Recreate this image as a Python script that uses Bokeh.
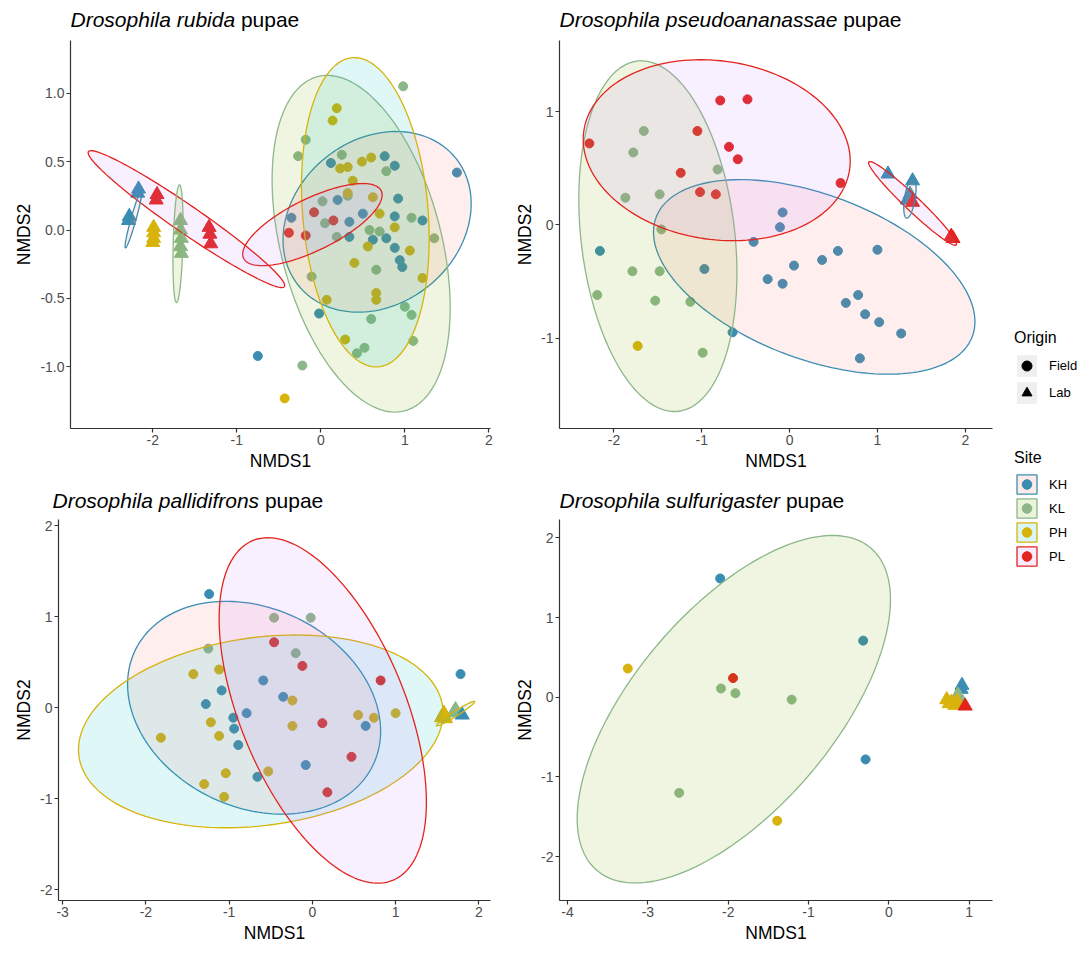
import numpy as np
from bokeh.plotting import figure
from bokeh.layouts import row, column
from bokeh.models import (ColumnDataSource, FixedTicker, Legend, LegendItem, Range1d)
from bokeh.core.properties import value
from bokeh.embed import file_html
from bokeh.resources import INLINE

# ---------------- categories / styles ----------------
sites = ["KH", "KL", "PH", "PL"]
site_line_colors = ["#3A8DB2", "#8DB78A", "#D8B30C", "#E3241D"]
site_fill_colors = ["#F8766D", "#7CAE00", "#00BFC4", "#C77CFF"]
origins = ["Field", "Lab"]

# ---------------- D. rubida ----------------
rubida_field_x = [1.62, 0.12, 0.76, 0.88, 0.92, 0.20, -0.35, 0.50, 0.34, 0.88, 1.21, 0.62, 0.78, 0.88, 0.94, 0.97, 0.34, -0.02, -0.75,
                  0.98, -0.18, -0.27, 0.25, 0.78, 0.02, 0.32, 0.05, 0.19, 0.58, 0.70, 1.08, 0.66, -0.11, 1.00, 1.08, 0.60, 1.10, 0.52, 0.43, -0.22, 1.35,
                  0.19, 0.14, 0.23, 0.32, 0.49, 0.60, 0.38, 0.32, 0.62, 0.70, 0.88, 0.56, 0.40, 1.06, 1.21, 0.66, 0.66, 0.07, 0.29, -0.43,
                  -0.08, 0.15, -0.38, -0.18]
rubida_field_y = [0.42, 0.49, 0.54, 0.47, 0.23, 0.22, 0.09, 0.12, 0.06, 0.10, 0.07, -0.07, -0.06, -0.13, -0.22, -0.27, -0.05, -0.61, -0.92,
                  1.05, 0.66, 0.54, 0.55, 0.43, 0.21, 0.25, 0.05, -0.05, 0.00, -0.01, 0.09, -0.29, -0.34, -0.56, -0.62, -0.65, -0.81, -0.86, -0.90, -0.99, -0.06,
                  0.89, 0.80, 0.45, 0.46, 0.50, 0.53, 0.36, 0.27, 0.24, 0.12, 0.02, -0.12, -0.24, -0.15, -0.35, -0.46, -0.51, -0.51, -0.80, -1.23,
                  0.13, 0.07, -0.02, -0.04]
rubida_field_site = ["KH"] * 19 + ["KL"] * 22 + ["PH"] * 20 + ["PL"] * 4
rubida_lab_x = [-2.17, -2.18, -2.28, -2.29, -1.99, -1.99, -1.99, -2.00, -1.67, -1.67, -1.66, -1.67, -1.66, -1.95, -1.96, -1.33, -1.32, -1.31]
rubida_lab_y = [0.30, 0.27, 0.10, 0.07, 0.02, -0.02, -0.06, -0.09, 0.07, 0.00, -0.06, -0.12, -0.17, 0.26, 0.22, 0.02, -0.03, -0.10]
rubida_lab_site = ["KH"] * 4 + ["PH"] * 4 + ["KL"] * 5 + ["PL"] * 5
rubida_ell_site = ["KH", "KL", "PH", "PL", "PL", "KL", "KH"]
rubida_ell_cx = [0.67, 0.48, 0.53, -0.10, -1.60, -1.70, -2.23]
rubida_ell_cy = [0.06, -0.10, 0.13, 0.04, 0.08, -0.10, 0.08]
rubida_ell_ax = [1.12, 1.06, 0.76, 0.83, 1.17, 0.06, 0.10]
rubida_ell_ay = [0.66, 1.23, 1.13, 0.30, 0.50, 0.43, 0.21]
rubida_ell_cos = [0.20, -0.38, -0.17, 0.72, -0.97, 0.30, 0.95]
rubida_xticks = [-2, -1, 0, 1, 2]
rubida_xlabels = ["-2", "-1", "0", "1", "2"]
rubida_yticks = [-1.0, -0.5, 0.0, 0.5, 1.0]
rubida_ylabels = ["-1.0", "-0.5", "0.0", "0.5", "1.0"]

# ---------------- D. pseudoananassae ----------------
pseudo_field_x = [-0.79, -0.48, -1.05, -2.28, -0.69, -0.59, -1.24, -1.02, -0.84, 0.58,
                  -1.66, -1.78, -1.87, -1.48, -0.82, -1.46, -1.79, -1.48, -2.19, -1.53, -1.13, -0.99,
                  -1.73,
                  -2.16, -0.97, -0.65, -0.41, -0.08, -0.11, 0.55, 1.00, 0.37, 0.05, -0.25, -0.08, 0.64, 0.78, 0.86, 1.02, 1.27, 0.80]
pseudo_field_y = [1.10, 1.11, 0.83, 0.72, 0.69, 0.58, 0.46, 0.29, 0.27, 0.37,
                  0.83, 0.64, 0.24, 0.27, 0.49, -0.04, -0.41, -0.41, -0.62, -0.67, -0.68, -1.13,
                  -1.07,
                  -0.23, -0.39, -0.95, -0.15, 0.11, -0.02, -0.23, -0.22, -0.31, -0.36, -0.48, -0.52, -0.69, -0.62, -0.79, -0.86, -0.96, -1.18]
pseudo_field_site = ["PL"] * 10 + ["KL"] * 12 + ["PH"] * 1 + ["KH"] * 18
pseudo_lab_x = [1.12, 1.40, 1.37, 1.34, 1.40, 1.86, 1.84]
pseudo_lab_y = [0.45, 0.39, 0.27, 0.22, 0.20, -0.12, -0.10]
pseudo_lab_site = ["KH"] * 4 + ["PL"] * 3
pseudo_ell_site = ["KH", "KL", "PL", "PL", "KH"]
pseudo_ell_cx = [0.28, -1.50, -0.83, 1.40, 1.37]
pseudo_ell_cy = [-0.46, -0.10, 0.66, 0.19, 0.24]
pseudo_ell_ax = [1.83, 0.90, 1.52, 0.50, 0.07]
pseudo_ell_ay = [0.86, 1.55, 0.80, 0.37, 0.18]
pseudo_ell_cos = [-0.46, -0.21, -0.12, -0.97, 0.50]
pseudo_xticks = [-2, -1, 0, 1, 2]
pseudo_xlabels = ["-2", "-1", "0", "1", "2"]
pseudo_yticks = [-1, 0, 1]
pseudo_ylabels = ["-1", "0", "1"]

# ---------------- D. pallidifrons ----------------
palli_field_x = [-1.24, -1.09, -1.28, -0.59, -0.35, -0.95, -0.79, -0.94, -0.89, -0.08, -0.66, 0.64, 1.78,
                 -0.46, -0.02, -0.20, -1.25,
                 -0.46, -0.12, 0.82, 0.12, 0.47, 0.18,
                 -1.43, -1.12, -1.82, -1.22, -1.12, -0.24, -0.24, 0.55, 0.74, 1.00, -1.04, -1.30, -1.06, -0.53]
palli_field_y = [1.25, 0.19, 0.04, 0.30, 0.12, -0.11, -0.06, -0.23, -0.41, -0.63, -0.76, -0.20, 0.37,
                 0.99, 0.99, 0.60, 0.65,
                 0.72, 0.46, 0.30, -0.17, -0.54, -0.93,
                 0.37, 0.42, -0.33, -0.16, -0.31, 0.08, -0.20, -0.08, -0.11, -0.06, -0.72, -0.84, -0.98, -0.70]
palli_field_site = ["KH"] * 13 + ["KL"] * 4 + ["PL"] * 6 + ["PH"] * 14
palli_lab_x = [1.72, 1.70, 1.80, 1.55, 1.58, 1.60]
palli_lab_y = [-0.02, -0.05, -0.08, -0.11, -0.06, -0.12]
palli_lab_site = ["KL"] * 2 + ["KH"] * 1 + ["PH"] * 3
palli_ell_site = ["KH", "PH", "PL", "PH"]
palli_ell_cx = [-0.70, -0.62, 0.125, 1.72]
palli_ell_cy = [0.00, -0.26, -0.03, -0.065]
palli_ell_ax = [1.52, 2.19, 1.245, 0.23]
palli_ell_ay = [1.17, 1.06, 1.90, 0.135]
palli_ell_cos = [-0.22, 0.19, -0.53, 0.97]
palli_xticks = [-3, -2, -1, 0, 1, 2]
palli_xlabels = ["-3", "-2", "-1", "0", "1", "2"]
palli_yticks = [-2, -1, 0, 1, 2]
palli_ylabels = ["-2", "-1", "0", "1", "2"]

# ---------------- D. sulfurigaster ----------------
sulfu_field_x = [-2.10, -0.32, -0.29, -3.25, -1.39, -1.94, -2.09, -1.91, -1.21, -2.61]
sulfu_field_y = [1.49, 0.71, -0.78, 0.36, -1.55, 0.24, 0.11, 0.05, -0.03, -1.20]
sulfu_field_site = ["KH"] * 3 + ["PH"] * 2 + ["PL"] * 1 + ["KL"] * 4
sulfu_lab_x = [0.91, 0.90, 0.86, 0.88, 0.72, 0.78, 0.82, 0.75, 0.85, 0.95]
sulfu_lab_y = [0.15, 0.10, 0.03, 0.00, -0.03, -0.06, -0.10, -0.08, -0.05, -0.11]
sulfu_lab_site = ["KH"] * 2 + ["KL"] * 2 + ["PH"] * 5 + ["PL"] * 1
sulfu_ell_site = ["KL"]
sulfu_ell_cx = [-1.93]
sulfu_ell_cy = [-0.15]
sulfu_ell_ax = [1.95]
sulfu_ell_ay = [2.18]
sulfu_ell_cos = [0.63]
sulfu_xticks = [-4, -3, -2, -1, 0, 1]
sulfu_xlabels = ["-4", "-3", "-2", "-1", "0", "1"]
sulfu_yticks = [-2, -1, 0, 1, 2]
sulfu_ylabels = ["-2", "-1", "0", "1", "2"]

# ---------------- helpers ----------------
FONT = "Liberation Sans"
AX_COL = "#333333"
TICK_TXT = "#4D4D4D"
TITLE_SIZE = 21

# Arial / Liberation Sans advance widths (per 1000 em)
_W = {" ": 278, "D": 722, "r": 333, "o": 556, "s": 500, "p": 556, "h": 556, "i": 222,
      "l": 222, "a": 556, "u": 556, "b": 556, "d": 556, "e": 556, "n": 556, "f": 278,
      "g": 556, "t": 278, "c": 500}


def text_width(s, size):
    return sum(_W.get(ch, 556) for ch in s) * size / 1000.0


def col_of(site):
    return site_line_colors[sites.index(site)]


def fill_of(site):
    return site_fill_colors[sites.index(site)]


def title_fig(species, width, height, x0, yc):
    t = figure(width=width, height=height, x_range=Range1d(0, width), y_range=Range1d(0, height),
               toolbar_location=None, output_backend="svg", min_border=0,
               x_axis_location=None, y_axis_location=None, outline_line_color=None)
    t.grid.visible = False
    ital = "Drosophila " + species
    t.text(x=[x0], y=[yc], text=[ital], text_font=value(FONT), text_font_size=f"{TITLE_SIZE}px",
           text_font_style="italic", text_baseline="middle", text_align="left", text_color="black")
    t.text(x=[x0 + text_width(ital + " ", TITLE_SIZE)], y=[yc], text=["pupae"], text_font=value(FONT),
           text_font_size=f"{TITLE_SIZE}px", text_font_style="normal", text_baseline="middle",
           text_align="left", text_color="black")
    return t


def panel(fx, fy, fs, lx, ly, ls, es, ecx, ecy, eax, eay, ecos,
          xr, yr, xt, xl, yt, yl, width, height, bl, br, bt, bb):
    p = figure(width=width, height=height, x_range=Range1d(*xr), y_range=Range1d(*yr),
               toolbar_location=None, output_backend="svg",
               min_border_left=bl, min_border_right=br, min_border_top=bt, min_border_bottom=bb,
               outline_line_color=None, background_fill_color="white", border_fill_color="white")
    p.grid.visible = False

    src_f = ColumnDataSource(dict(x=fx, y=fy, c=[col_of(s) for s in fs]))
    p.scatter("x", "y", source=src_f, marker="circle", size=9, fill_color="c", line_color="c")
    src_l = ColumnDataSource(dict(x=lx, y=ly, c=[col_of(s) for s in ls]))
    p.scatter("x", "y", source=src_l, marker="triangle", size=14, fill_color="c", line_color="c")

    t = np.linspace(0, 2 * np.pi, 160)
    xs, ys, lc, fc = [], [], [], []
    for s, cx, cy, ax, ay, cs in zip(es, ecx, ecy, eax, eay, ecos):
        d = np.arccos(cs)
        xs.append(list(cx + ax * np.cos(t)))
        ys.append(list(cy + ay * np.cos(t - d)))
        lc.append(col_of(s))
        fc.append(fill_of(s))
    src_e = ColumnDataSource(dict(xs=xs, ys=ys, lc=lc, fc=fc))
    p.patches("xs", "ys", source=src_e, fill_color="fc", fill_alpha=0.12,
              line_color="lc", line_width=1.3)

    p.xaxis.ticker = FixedTicker(ticks=xt)
    p.xaxis.major_label_overrides = {float(k): v for k, v in zip(xt, xl)}
    p.yaxis.ticker = FixedTicker(ticks=yt)
    p.yaxis.major_label_overrides = {float(k): v for k, v in zip(yt, yl)}
    p.xaxis.axis_label = "NMDS1"
    p.yaxis.axis_label = "NMDS2"
    for a in (p.xaxis[0], p.yaxis[0]):
        a.axis_line_color = AX_COL
        a.axis_line_width = 1.2
        a.major_tick_line_color = AX_COL
        a.major_tick_line_width = 1.2
        a.major_tick_out = 4
        a.major_tick_in = 0
        a.minor_tick_line_color = None
        a.major_label_text_color = TICK_TXT
        a.major_label_text_font = FONT
        a.major_label_text_font_size = "14px"
        a.major_label_standoff = 2
        a.axis_label_text_font = FONT
        a.axis_label_text_font_size = "17.5px"
        a.axis_label_text_font_style = "normal"
        a.axis_label_text_color = "black"
        a.axis_label_standoff = 3
    return p


# top row: title strip 34 px, plot frame 40..428
t1 = title_fig("rubida", 500, 34, 70, 15)
p1 = panel(rubida_field_x, rubida_field_y, rubida_field_site,
           rubida_lab_x, rubida_lab_y, rubida_lab_site,
           rubida_ell_site, rubida_ell_cx, rubida_ell_cy, rubida_ell_ax, rubida_ell_ay, rubida_ell_cos,
           (-2.98, 2.02), (-1.45, 1.385), rubida_xticks, rubida_xlabels, rubida_yticks, rubida_ylabels,
           500, 444, 70, 10, 6, 50)
t2 = title_fig("pseudoananassae", 495, 34, 59, 15)
p2 = panel(pseudo_field_x, pseudo_field_y, pseudo_field_site,
           pseudo_lab_x, pseudo_lab_y, pseudo_lab_site,
           pseudo_ell_site, pseudo_ell_cx, pseudo_ell_cy, pseudo_ell_ax, pseudo_ell_ay, pseudo_ell_cos,
           (-2.62, 2.31), (-1.80, 1.63), pseudo_xticks, pseudo_xlabels, pseudo_yticks, pseudo_ylabels,
           495, 444, 59, 3, 6, 50)
# bottom row: title strip 35 px, plot frame 519..900
t3 = title_fig("pallidifrons", 500, 35, 52, 13)
p3 = panel(palli_field_x, palli_field_y, palli_field_site,
           palli_lab_x, palli_lab_y, palli_lab_site,
           palli_ell_site, palli_ell_cx, palli_ell_cy, palli_ell_ax, palli_ell_ay, palli_ell_cos,
           (-3.05, 2.14), (-2.12, 2.07), palli_xticks, palli_xlabels, palli_yticks, palli_ylabels,
           500, 437, 58, 10, 6, 50)
t4 = title_fig("sulfurigaster", 495, 35, 59, 13)
p4 = panel(sulfu_field_x, sulfu_field_y, sulfu_field_site,
           sulfu_lab_x, sulfu_lab_y, sulfu_lab_site,
           sulfu_ell_site, sulfu_ell_cx, sulfu_ell_cy, sulfu_ell_ax, sulfu_ell_ay, sulfu_ell_cos,
           (-4.10, 1.29), (-2.55, 2.23), sulfu_xticks, sulfu_xlabels, sulfu_yticks, sulfu_ylabels,
           495, 437, 59, 3, 6, 50)

# ---------------- legend column ----------------
LEG_H = 950
leg = figure(width=92, height=LEG_H, x_range=Range1d(0, 1), y_range=Range1d(0, 1),
             toolbar_location=None, output_backend="svg", min_border=0,
             x_axis_location=None, y_axis_location=None, outline_line_color=None)
leg.grid.visible = False

NAN = [float("nan")]
r_bg = leg.quad(left=NAN, right=NAN, top=NAN, bottom=NAN, fill_color="#EBEBEB", fill_alpha=0.8, line_color=None)
r_field = leg.scatter(x=NAN, y=NAN, marker="circle", fill_color="black", line_color="black")
r_lab = leg.scatter(x=NAN, y=NAN, marker="triangle", fill_color="black", line_color="black")
origin_items = [LegendItem(label=origins[0], renderers=[r_bg, r_field]),
                LegendItem(label=origins[1], renderers=[r_bg, r_lab])]

site_items = []
for s in sites:
    rq = leg.quad(left=NAN, right=NAN, top=NAN, bottom=NAN, fill_color=fill_of(s), fill_alpha=0.15,
                  line_color=col_of(s), line_width=1.3)
    rp = leg.scatter(x=NAN, y=NAN, marker="circle", fill_color=col_of(s), line_color=col_of(s))
    site_items.append(LegendItem(label=s, renderers=[rq, rp]))


def style_legend(lg, gh):
    lg.title_text_font = FONT
    lg.title_text_font_size = "16px"
    lg.title_text_font_style = "normal"
    lg.title_text_color = "black"
    lg.title_standoff = 5
    lg.label_text_font = FONT
    lg.label_text_font_size = "13px"
    lg.label_text_color = "black"
    lg.label_standoff = 10
    lg.glyph_width = 25
    lg.glyph_height = gh
    lg.label_height = gh
    lg.spacing = 0
    lg.padding = 0
    lg.margin = 0
    lg.border_line_color = None
    lg.background_fill_alpha = 0


lg_origin = Legend(items=origin_items, title="Origin", location=(19, LEG_H - 406))
style_legend(lg_origin, 27)
lg_site = Legend(items=site_items, title="Site", location=(19, LEG_H - 568))
style_legend(lg_site, 24)
leg.add_layout(lg_origin)
leg.add_layout(lg_site)

panels = column(row(t1, t2), row(p1, p2), row(t3, t4), row(p3, p4))
layout = row(panels, leg)

open("out.html", "w").write(file_html(layout, INLINE))
